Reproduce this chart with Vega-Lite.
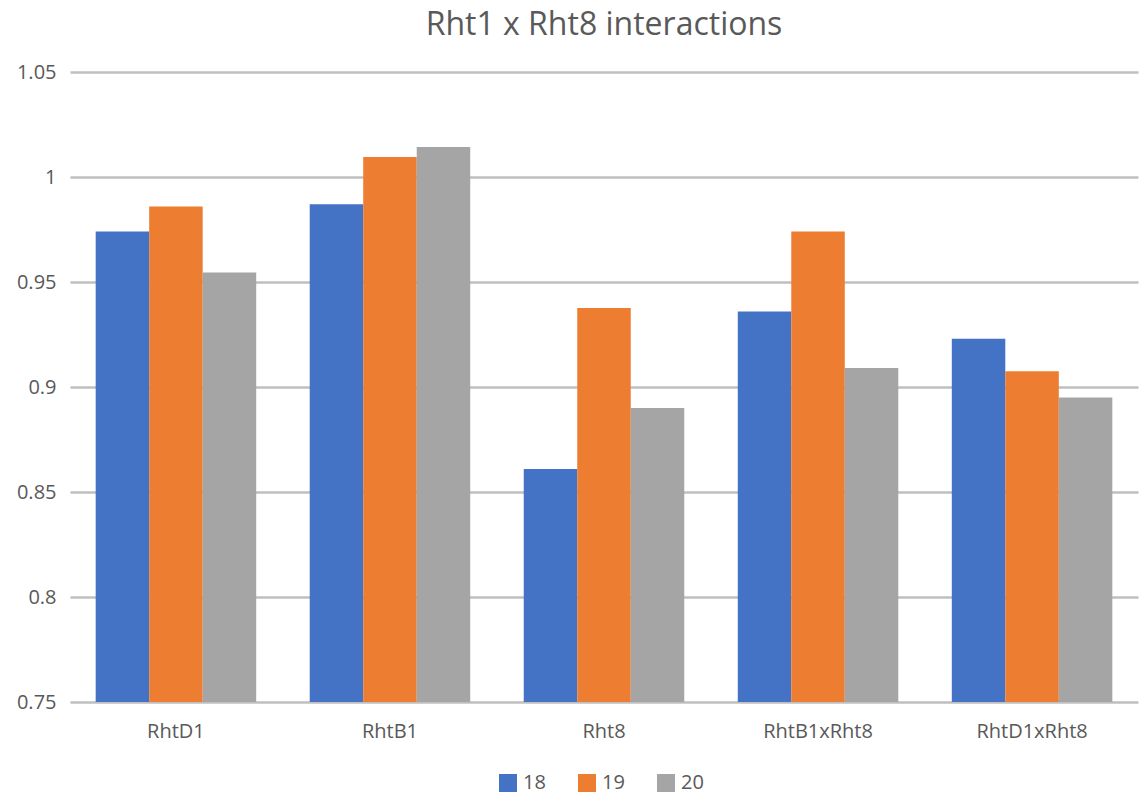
{
  "$schema": "https://vega.github.io/schema/vega-lite/v6.json",
  "width": 1068,
  "height": 630,
  "autosize": "none",
  "padding": {"left": 70, "top": 72, "right": 2, "bottom": 95},
  "background": "white",
  "title": {"text": "Rht1 x Rht8 interactions", "fontSize": 32, "font": "Open Sans", "fontWeight": "normal", "color": "#595959", "anchor": "middle", "offset": 20},
  "data": {"values": [
    {"group": "RhtD1", "year": "18", "value": 0.974},
    {"group": "RhtD1", "year": "19", "value": 0.986},
    {"group": "RhtD1", "year": "20", "value": 0.9545},
    {"group": "RhtB1", "year": "18", "value": 0.987},
    {"group": "RhtB1", "year": "19", "value": 1.0095},
    {"group": "RhtB1", "year": "20", "value": 1.0143},
    {"group": "Rht8", "year": "18", "value": 0.861},
    {"group": "Rht8", "year": "19", "value": 0.9376},
    {"group": "Rht8", "year": "20", "value": 0.89},
    {"group": "RhtB1xRht8", "year": "18", "value": 0.936},
    {"group": "RhtB1xRht8", "year": "19", "value": 0.974},
    {"group": "RhtB1xRht8", "year": "20", "value": 0.909},
    {"group": "RhtD1xRht8", "year": "18", "value": 0.923},
    {"group": "RhtD1xRht8", "year": "19", "value": 0.9075},
    {"group": "RhtD1xRht8", "year": "20", "value": 0.895}
  ]},
  "mark": {"type": "bar", "clip": true},
  "encoding": {
    "x": {"field": "group", "type": "nominal", "sort": null,
      "scale": {"paddingInner": 0.25, "paddingOuter": 0.12},
      "axis": {"title": null, "labelAngle": 0, "ticks": false, "domain": false, "labelFontSize": 20, "labelFont": "Open Sans", "labelColor": "#595959", "labelPadding": 19}},
    "xOffset": {"field": "year", "type": "nominal"},
    "y": {"field": "value", "type": "quantitative",
      "scale": {"domain": [0.75, 1.05], "zero": false, "nice": false},
      "axis": {"title": null, "values": [0.75, 0.8, 0.85, 0.9, 0.95, 1, 1.05], "labelExpr": "format(datum.value, '')", "ticks": false, "domain": false, "gridColor": "#bfbfbf", "gridWidth": 2.5, "labelFontSize": 20, "labelFont": "Open Sans", "labelColor": "#595959", "labelPadding": 14}},
    "color": {"field": "year", "type": "nominal",
      "scale": {"domain": ["18", "19", "20"], "range": ["#4472C4", "#ED7D31", "#A5A5A5"]},
      "legend": {"title": null, "orient": "none", "legendX": 428, "legendY": 701, "direction": "horizontal", "symbolType": "square", "symbolSize": 324, "symbolStrokeWidth": 0, "symbolOpacity": 1, "labelFontSize": 20, "labelFont": "Open Sans", "labelColor": "#595959", "columnPadding": 31, "labelOffset": 5}}
  },
  "config": {"view": {"stroke": null}, "axis": {"gridOpacity": 1}}
}
